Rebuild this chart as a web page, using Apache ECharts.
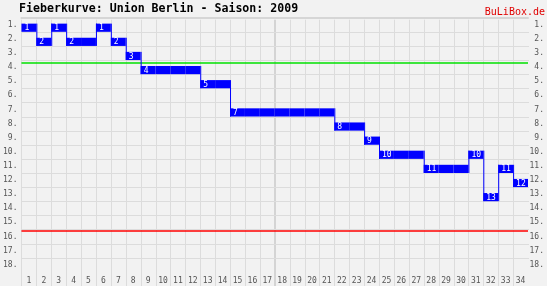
<!DOCTYPE html>
<html>
<head>
<meta charset="utf-8">
<script src="https://cdn.jsdelivr.net/npm/echarts@6/dist/echarts.min.js"></script>
<style>html,body{margin:0;padding:0;background:#f2f2f2}#c{width:547px;height:286px}</style>
</head>
<body>
<div id="c"></div>
<script>
const matchdays = ['1','2','3','4','5','6','7','8','9','10','11','12','13','14','15','16','17','18','19','20','21','22','23','24','25','26','27','28','29','30','31','32','33','34'];
const ranks = [1,2,1,2,2,1,2,3,4,4,4,4,5,5,7,7,7,7,7,7,7,8,8,9,10,10,10,11,11,11,10,13,11,12];
const rankLabels = ['1.','2.','3.','4.','5.','6.','7.','8.','9.','10.','11.','12.','13.','14.','15.','16.','17.','18.'];
const promotionLine = 3.17;
const relegationLine = 15.06;
const halfSeason = 17;
const titleText = 'Fieberkurve: Union Berlin - Saison: 2009';
const brandText = 'BuLiBox.de';

const MONO = '"DejaVu Sans Mono", "Liberation Mono", monospace';
const GRID = '#dcdcdc';
const chart = echarts.init(document.getElementById('c'), null, {renderer: 'canvas'});

const option = {
  backgroundColor: '#f2f2f2',
  animation: false,
  title: [
    {text: titleText, left: 19, top: 3, padding: 0, textStyle: {fontFamily: MONO, fontWeight: 'bold', fontSize: 11.6, color: '#000'}},
    {text: brandText, right: 2, top: 7, padding: 0, textStyle: {fontFamily: MONO, fontWeight: 'normal', fontSize: 10, color: '#e00000'}}
  ],
  grid: {show: false, borderWidth: 0, borderColor: 'transparent', left: 20, right: 17, top: 17.7, bottom: 14.2, containLabel: false},
  xAxis: [
    {
      type: 'category', data: matchdays, position: 'bottom', boundaryGap: true,
      axisLine: {show: true, lineStyle: {color: '#d6d6d6', width: 2}},
      axisTick: {show: false},
      axisLabel: {fontFamily: MONO, fontSize: 8, color: '#555', margin: 5},
      splitLine: {show: false}, splitArea: {show: false}
    },
    {type: 'value', min: 0, max: matchdays.length, show: false, splitLine: {show: false}}
  ],
  yAxis: [
    {
      type: 'category', data: rankLabels, inverse: true, position: 'left',
      axisLine: {show: false}, axisTick: {show: false},
      axisLabel: {fontFamily: MONO, fontSize: 8, color: '#555', margin: 4},
      splitLine: {show: false}, splitArea: {show: false}
    },
    {
      type: 'category', data: rankLabels, inverse: true, position: 'right',
      axisLine: {show: false}, axisTick: {show: false},
      axisLabel: {fontFamily: MONO, fontSize: 8, color: '#555', margin: 16, align: 'right'},
      splitLine: {show: false}, splitArea: {show: false}
    },
    {type: 'value', min: 0, max: rankLabels.length, inverse: true, show: false, splitLine: {show: false}}
  ],
  series: [
    {
      // vertical grid lines at matchday boundaries (extending through the label band)
      type: 'custom', xAxisIndex: 1, yAxisIndex: 2, z: 0, silent: true, clip: false,
      data: matchdays.map((_, i) => [i]),
      renderItem: function (params, api) {
        const x = api.value(0);
        const p0 = api.coord([x, 0]);
        const p1 = api.coord([x, rankLabels.length]);
        const w = x === halfSeason ? 2 : 1;
        const xx = Math.round(p0[0]) + (w === 1 ? 0.5 : 0);
        return {type: 'line', shape: {x1: xx, y1: p0[1] + 2, x2: xx, y2: p1[1] + 15},
          style: {stroke: x === halfSeason ? '#d4d4d4' : GRID, lineWidth: w}};
      }
    },
    {
      // horizontal grid lines at rank boundaries
      type: 'custom', xAxisIndex: 1, yAxisIndex: 2, z: 0, silent: true, clip: false,
      data: rankLabels.slice(0, -1).map((_, i) => [i + 1]),
      renderItem: function (params, api) {
        const y = api.value(0);
        const p0 = api.coord([0, y]);
        const p1 = api.coord([matchdays.length, y]);
        const yy = Math.round(p0[1]) + 0.5;
        return {type: 'line', shape: {x1: p0[0], y1: yy, x2: p1[0] + 1, y2: yy},
          style: {stroke: GRID, lineWidth: 1}};
      }
    },
    {
      type: 'line', xAxisIndex: 1, yAxisIndex: 2, data: [], z: 1, silent: true,
      markLine: {
        silent: true, symbol: 'none', label: {show: false}, animation: false,
        data: [
          {yAxis: promotionLine, lineStyle: {color: '#00e000', width: 1.5, type: 'solid'}},
          {yAxis: relegationLine, lineStyle: {color: '#ff0000', width: 1.5, type: 'solid'}}
        ]
      }
    },
    {
      type: 'custom', xAxisIndex: 1, yAxisIndex: 2, z: 3, zlevel: 1, silent: true,
      data: ranks.map((r, i) => [i + 1, r]),
      renderItem: function (params, api) {
        const i = params.dataIndex;
        const md = api.value(0), rk = api.value(1);
        const a = api.coord([md - 1, rk]);
        const b = api.coord([md, rk]);
        const rowH = api.size([0, 1])[1];
        const barH = rowH * 0.58;
        const top = a[1] - barH;
        const children = [{
          type: 'rect',
          shape: {x: a[0], y: top, width: b[0] - a[0], height: barH},
          style: {fill: '#0000ff'}
        }];
        const prev = i > 0 ? ranks[i - 1] : null;
        if (prev !== null && prev !== rk) {
          const pb = api.coord([md - 1, prev]);
          const pTop = pb[1] - barH;
          const y1 = Math.min(top, pTop), y2 = Math.max(a[1], pb[1]);
          children.push({
            type: 'line',
            shape: {x1: a[0] + 0.5, y1: y1, x2: a[0] + 0.5, y2: y2},
            style: {stroke: '#0000ff', lineWidth: 1}
          });
        }
        if (prev === null || prev !== rk) {
          children.push({
            type: 'text',
            style: {
              text: String(rk), x: a[0] + 3, y: top + barH / 2 + 0.5,
              fill: '#fff', font: '8px ' + MONO, textAlign: 'left', textVerticalAlign: 'middle'
            }
          });
        }
        return {type: 'group', children: children};
      }
    }
  ]
};
chart.setOption(option);
</script>
</body>
</html>
